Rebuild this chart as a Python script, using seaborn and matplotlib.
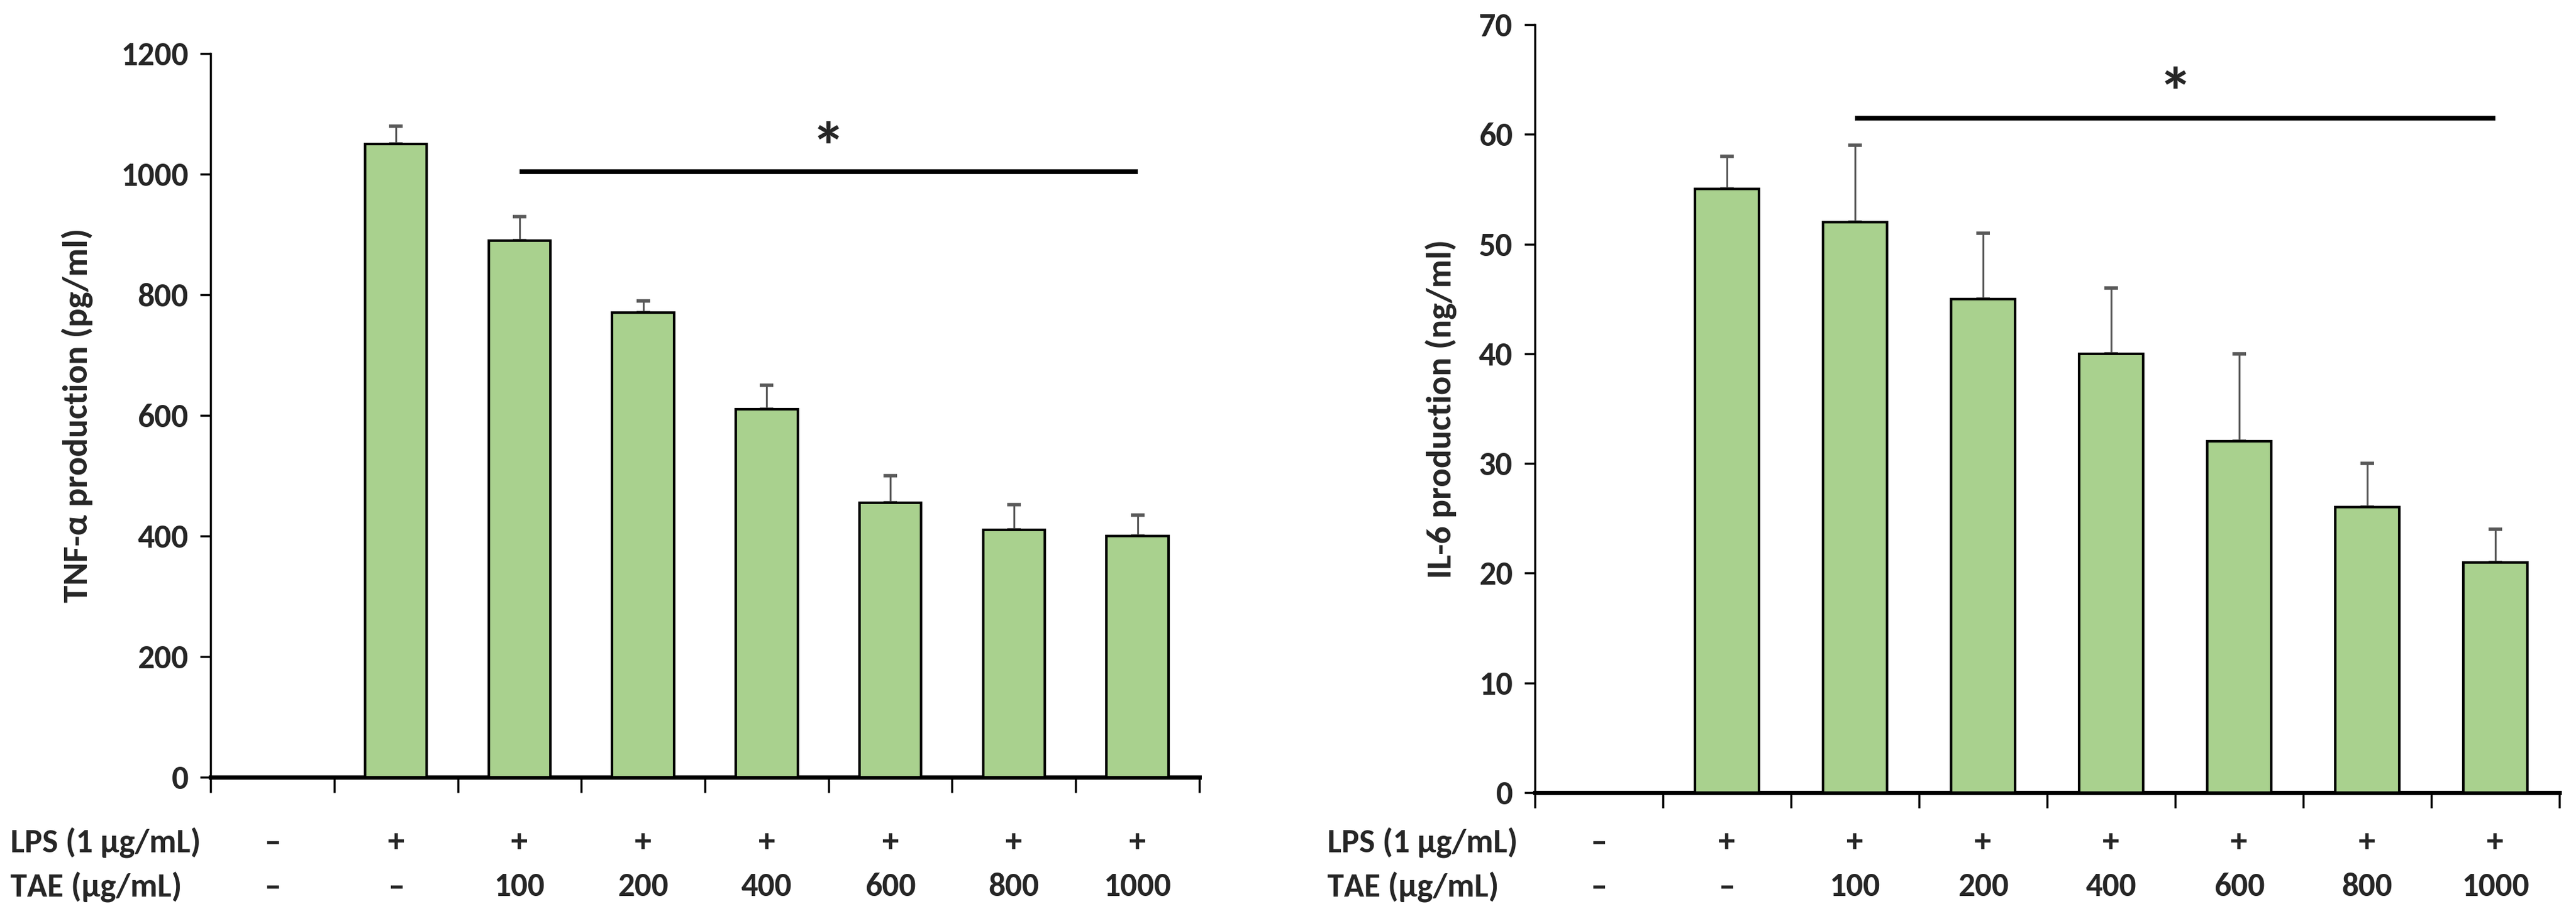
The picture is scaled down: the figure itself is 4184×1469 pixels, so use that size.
import numpy as np
import pandas as pd
import matplotlib
matplotlib.use("Agg")
import matplotlib.pyplot as plt
import matplotlib.transforms as mtransforms
from matplotlib import font_manager as fm
import seaborn as sns

# ---------------- data ----------------
groups = ["ctrl", "LPS", "100", "200", "400", "600", "800", "1000"]
lps_row = ["–", "+", "+", "+", "+", "+", "+", "+"]
tae_row = ["–", "–", "100", "200", "400", "600", "800", "1000"]

tnf_mean = [np.nan, 1050, 890, 770, 610, 455, 410, 400]
tnf_err = [0, 30, 40, 20, 40, 45, 42, 35]

il6_mean = [np.nan, 55, 52, 45, 40, 32, 26, 21]
il6_err = [0, 3, 7, 6, 6, 8, 4, 3]

tnf_ticks = [0, 200, 400, 600, 800, 1000, 1200]
il6_ticks = [0, 10, 20, 30, 40, 50, 60, 70]

# ---------------- style ----------------
sns.set_theme(style="white")
available = {f.name for f in fm.fontManager.ttflist}
prefs = ["Carlito", "Liberation Sans Narrow", "Fira Sans Condensed", "Liberation Sans"]
main_font = next((p for p in prefs if p in available), "DejaVu Sans")
narrow = [main_font, "DejaVu Sans"]
plt.rcParams["font.family"] = narrow
plt.rcParams["font.weight"] = "bold"

FS = 39
YFS = 41
STAR_FS = 80

BAR = "#A9D18E"
ERR = "#595959"
DPI = 100
fig = plt.figure(figsize=(4184 / DPI, 1469 / DPI), dpi=DPI)

ax1 = fig.add_axes([342 / 4184, 1 - 1263 / 1469, (1948 - 342) / 4184, (1263 - 87) / 1469])
ax2 = fig.add_axes([2493 / 4184, 1 - 1288 / 1469, (4157 - 2493) / 4184, (1288 - 40) / 1469])


def panel(ax, means, errs, ticks, ylabel, sig_y, star_y, ylabel_x, row_label_x):
    df = pd.DataFrame({"group": groups, "value": means})
    sns.barplot(data=df, x="group", y="value", order=groups, color=BAR,
                saturation=1, width=0.5, edgecolor="black", linewidth=3,
                errorbar=None, ax=ax, zorder=3)
    xs = np.arange(len(groups))
    m = np.array(means, dtype=float)
    e = np.array(errs, dtype=float)
    ok = ~np.isnan(m)
    ax.errorbar(xs[ok], m[ok], yerr=[np.zeros(ok.sum()), e[ok]], fmt="none",
                ecolor=ERR, elinewidth=2.2, capsize=8, capthick=4, zorder=2)
    ax.set_xlim(-0.5, len(groups) - 0.5)
    ax.set_ylim(ticks[0], ticks[-1])
    ax.set_yticks(ticks)
    ax.set_yticklabels([str(t) for t in ticks], fontsize=FS, fontweight="bold",
                       family=narrow)
    ax.set_xticks([])
    ax.set_xticks(np.arange(-0.5, len(groups)), minor=True)
    ax.tick_params(axis="x", which="minor", bottom=True, length=18, width=2.5,
                   direction="out", color="black")
    ax.tick_params(axis="y", left=True, length=12, width=2.5, direction="out",
                   color="black", pad=14)
    ax.set_xlabel("")
    ax.set_ylabel("")
    for s in ["top", "right"]:
        ax.spines[s].set_visible(False)
    ax.spines["left"].set_linewidth(2.5)
    ax.spines["bottom"].set_linewidth(5)
    for s in ["left", "bottom"]:
        ax.spines[s].set_color("black")

    # significance bar
    ax.plot([2, 7], [sig_y, sig_y], color="black", lw=5.5, solid_capstyle="butt", zorder=4)
    ax.annotate("*", xy=(4.5, star_y), xytext=(0, -0.5 * STAR_FS),
                textcoords="offset points", ha="center", va="baseline",
                fontsize=STAR_FS, fontweight="bold", family=narrow)

    # y label
    fig.text(ylabel_x, (ax.get_position().y0 + ax.get_position().y1) / 2, ylabel,
             rotation=90, ha="center", va="center", fontsize=YFS, fontweight="bold",
             family=narrow)

    # condition rows under the axis
    trans = mtransforms.blended_transform_factory(ax.transData, fig.transFigure)
    for i in range(len(groups)):
        ax.text(i, 1 - 1370 / 1469, lps_row[i], transform=trans, ha="center", va="center",
                fontsize=FS, fontweight="bold", family=narrow)
        ax.text(i, 1 - 1442 / 1469, tae_row[i], transform=trans, ha="center", va="center",
                fontsize=FS, fontweight="bold", family=narrow)
    fig.text(row_label_x, 1 - 1370 / 1469, "LPS (1 µg/mL)", ha="left", va="center",
             fontsize=FS, fontweight="bold", family=narrow)
    fig.text(row_label_x, 1 - 1442 / 1469, "TAE (µg/mL)", ha="left", va="center",
             fontsize=FS, fontweight="bold", family=narrow)


panel(ax1, tnf_mean, tnf_err, tnf_ticks, "TNF-α production (pg/ml)",
      1004, 1063, 125 / 4184, 17 / 4184)
panel(ax2, il6_mean, il6_err, il6_ticks, "IL-6 production (ng/ml)",
      61.45, 64.8, 2340 / 4184, 2156 / 4184)

fig.savefig("out.png", dpi=DPI)
